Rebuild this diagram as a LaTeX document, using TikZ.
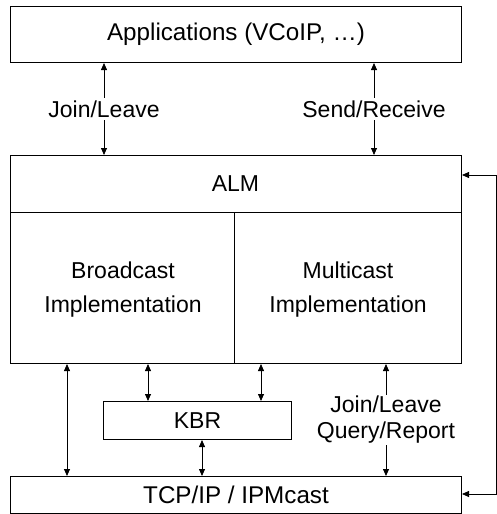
\documentclass[tikz,border=0pt]{standalone}
\usepackage{fontspec}
\setmainfont{Liberation Sans}
\usetikzlibrary{arrows.meta,calc}
\begin{document}
\begin{tikzpicture}[x=1pt,y=-1pt,
  box/.style={draw, line width=1pt, rectangle, inner sep=0pt, anchor=north west},
  txt/.style={font=\fontsize{23}{26}\selectfont, inner sep=1pt, align=center},
  bigtxt/.style={font=\fontsize{24.2}{28}\selectfont, inner sep=0pt, align=center},
  impl/.style={font=\fontsize{23}{34}\selectfont, inner sep=1pt, align=center},
  conn/.style={line width=0.8pt, {Triangle[length=7pt,width=6pt]}-{Triangle[length=7pt,width=6pt]}},
  fb/.style={line width=0.8pt, -{Triangle[length=7pt,width=6pt]}},
  onlbl/.style={txt, fill=white, inner sep=3pt}]
\useasboundingbox (0,0) rectangle (497,514);
% boxes
\node[box, minimum width=451pt, minimum height=56pt, bigtxt] (app) at (10,6) {Applications (VCoIP, …)};
\node[box, minimum width=451pt, minimum height=208pt] (alm) at (10,155) {};
\node[box, minimum width=188pt, minimum height=38pt, txt, inner sep=0pt] (kbr) at (103,401) {KBR};
\node[box, minimum width=451pt, minimum height=37pt, bigtxt] (tcp) at (10,476) {TCP/IP / IPMcast};
% ALM inner structure
\coordinate (almL) at (10,212);
\coordinate (almR) at (461,212);
\coordinate (divT) at (234,212);
\coordinate (divB) at (234,363);
\draw[line width=1pt] (almL) -- (almR);
\draw[line width=1pt] (divT) -- (divB);
\node[txt] (almt) at (235.5,184) {ALM};
\node[impl] (bc) at (123,290) {Broadcast\\Implementation};
\node[impl] (mc) at (348,290) {Multicast\\Implementation};
% connectors
\draw[conn] (app.south -| 104,0) -- node[onlbl] (jl) {Join/Leave} (alm.north -| 104,0);
\draw[conn] (app.south -| 374,0) -- node[onlbl] (sr) {Send/Receive} (alm.north -| 374,0);
\draw[conn] (alm.south -| 67,0) -- (tcp.north -| 67,0);
\draw[conn] (alm.south -| 148,0) -- (kbr.north -| 148,0);
\draw[conn] (alm.south -| 261,0) -- (kbr.north -| 261,0);
\draw[conn] (kbr.south -| 202,0) -- (tcp.north -| 202,0);
\draw[conn] (alm.south -| 386,0) -- node[onlbl, inner sep=1pt] (jq) {Join/Leave\\Query/Report} (tcp.north -| 386,0);
% feedback loop on the right
\coordinate (fbT) at (496,175);
\coordinate (fbB) at (496,494);
\draw[fb] (fbT) -- (fbT -| alm.east);
\draw[fb] (fbT) -- (fbB) -- (fbB -| tcp.east);
\end{tikzpicture}
\end{document}
